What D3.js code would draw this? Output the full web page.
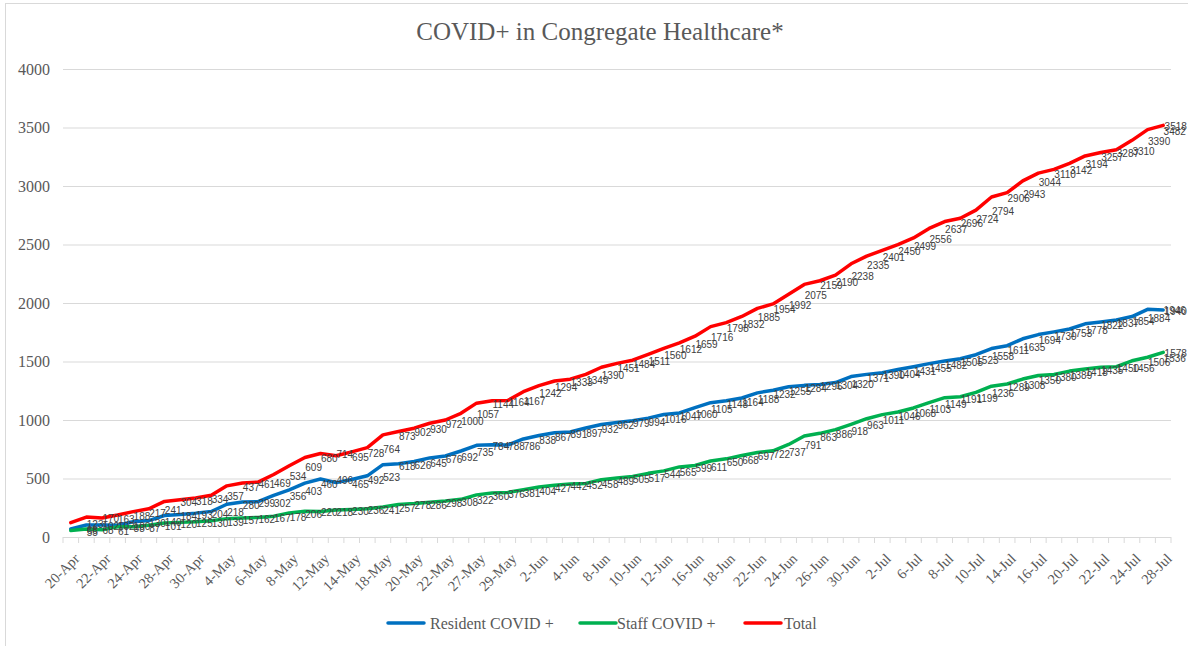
<!DOCTYPE html>
<html>
<head>
<meta charset="utf-8">
<script src="https://cdn.jsdelivr.net/npm/d3@7/dist/d3.min.js"></script>
<style>
body { margin: 0; background: #fff; }
svg { display: block; }
</style>
</head>
<body>
<div id="chart"></div>
<script>
const dates = ['20-Apr', '21-Apr', '22-Apr', '23-Apr', '24-Apr', '27-Apr', '28-Apr', '29-Apr', '30-Apr', '1-May',
    '4-May', '5-May', '6-May', '7-May', '8-May', '11-May', '12-May', '13-May', '14-May', '15-May',
    '18-May', '19-May', '20-May', '21-May', '22-May', '26-May', '27-May', '28-May', '29-May', '1-Jun',
    '2-Jun', '3-Jun', '4-Jun', '5-Jun', '8-Jun', '9-Jun', '10-Jun', '11-Jun', '12-Jun', '15-Jun',
    '16-Jun', '17-Jun', '18-Jun', '19-Jun', '22-Jun', '23-Jun', '24-Jun', '25-Jun', '26-Jun', '29-Jun',
    '30-Jun', '1-Jul', '2-Jul', '3-Jul', '6-Jul', '7-Jul', '8-Jul', '9-Jul', '10-Jul', '13-Jul',
    '14-Jul', '15-Jul', '16-Jul', '17-Jul', '20-Jul', '21-Jul', '22-Jul', '23-Jul', '24-Jul', '27-Jul',
    '28-Jul']

const resident = [68, 102, 102, 100, 130, 140, 184, 193, 204, 218,
    280, 299, 302, 356, 403, 460, 496, 465, 492, 523,
    618, 626, 645, 676, 692, 735, 784, 788, 786, 838,
    867, 891, 897, 932, 962, 979, 994, 1016, 1047, 1060,
    1105, 1148, 1164, 1188, 1232, 1255, 1284, 1296, 1304, 1320,
    1371, 1390, 1404, 1431, 1455, 1482, 1505, 1523, 1558, 1611,
    1635, 1694, 1730, 1753, 1778, 1822, 1837, 1854, 1884, 1946,
    1940]

const staff = [55, 68, 61, 88, 87, 101, 120, 125, 130, 139,
    157, 162, 167, 178, 206, 220, 218, 230, 236, 241,
    257, 278, 286, 298, 308, 322, 360, 376, 381, 404,
    427, 442, 452, 458, 489, 505, 517, 544, 565, 599,
    611, 650, 668, 697, 722, 737, 791, 863, 886, 918,
    963, 1011, 1046, 1068, 1103, 1149, 1191, 1199, 1236, 1289,
    1308, 1350, 1380, 1389, 1418, 1435, 1450, 1456, 1506, 1536,
    1578]

const total = [123, 170, 163, 188, 217, 241, 304, 318, 334, 357,
    437, 461, 469, 534, 609, 680, 714, 695, 728, 764,
    873, 902, 930, 972, 1000, 1057, 1144, 1164, 1167, 1242,
    1294, 1333, 1349, 1390, 1451, 1484, 1511, 1560, 1612, 1659,
    1716, 1798, 1832, 1885, 1954, 1992, 2075, 2159, 2190, 2238,
    2335, 2401, 2450, 2499, 2556, 2637, 2696, 2724, 2794, 2906,
    2943, 3044, 3110, 3142, 3194, 3257, 3287, 3310, 3390, 3482,
    3518]

const yTicks = [0, 500, 1000, 1500, 2000, 2500, 3000, 3500, 4000]
const seriesNames = ['Resident COVID +', 'Staff COVID +', 'Total']
const seriesColors = ['#0070C0', '#00B050', '#FF0000']
const title = 'COVID+ in Congregate Healthcare*'

const W = 1188
const H = 646
const plot = { left: 63, right: 1171, top: 69, bottom: 537 }

const serif = '"Liberation Serif", "Times New Roman", serif'
const sans = '"Liberation Sans", Arial, sans-serif'
const textColor = '#595959'
const gridColor = '#d9d9d9'

const series = [resident, staff, total].map((vals, i) => ({
    name: seriesNames[i],
    color: seriesColors[i],
    values: vals.map((v, j) => ({ date: dates[j], value: v }))
}))

const xScale = d3.scaleBand().domain(dates).range([plot.left, plot.right])
const xMid = d => xScale(d) + xScale.bandwidth() / 2
const yScale = d3.scaleLinear().domain([0, 4000]).range([plot.bottom, plot.top])

const svg = d3.select('#chart').append('svg')
    .attr('width', W)
    .attr('height', H)

// outer chart border
svg.append('rect')
    .attr('x', 5.5)
    .attr('y', 3.5)
    .attr('width', W)
    .attr('height', H)
    .attr('fill', 'none')
    .attr('stroke', gridColor)

svg.append('text')
    .attr('x', 600)
    .attr('y', 40)
    .attr('text-anchor', 'middle')
    .attr('font-family', serif)
    .attr('font-size', 25)
    .attr('fill', textColor)
    .text(title)

// gridlines + y labels
const yAxis = d3.axisLeft(yScale)
    .tickValues(yTicks)
    .tickFormat(d3.format('d'))
    .tickSize(-(plot.right - plot.left))
    .tickPadding(13)

svg.append('g')
    .attr('transform', `translate(${plot.left},0)`)
    .call(yAxis)
    .call(g => g.select('.domain').remove())
    .call(g => g.selectAll('.tick line').attr('stroke', gridColor))
    .call(g => g.selectAll('.tick text')
        .attr('font-family', serif)
        .attr('font-size', 16)
        .attr('fill', textColor))

// x axis line and tick marks between categories
svg.append('line')
    .attr('x1', plot.left)
    .attr('x2', plot.right)
    .attr('y1', plot.bottom + 0.5)
    .attr('y2', plot.bottom + 0.5)
    .attr('stroke', gridColor)

svg.append('g')
    .selectAll('line')
    .data(dates.concat([null]))
    .enter().append('line')
    .attr('x1', d => d === null ? plot.right : xScale(d))
    .attr('x2', d => d === null ? plot.right : xScale(d))
    .attr('y1', plot.bottom)
    .attr('y2', plot.bottom + 6)
    .attr('stroke', gridColor)

svg.append('g')
    .selectAll('text')
    .data(dates.filter((d, i) => i % 2 === 0))
    .enter().append('text')
    .attr('transform', d => `translate(${xMid(d) + 6},${plot.bottom + 19}) rotate(-45)`)
    .attr('text-anchor', 'end')
    .attr('dy', '0.35em')
    .attr('font-family', serif)
    .attr('font-size', 14.5)
    .attr('fill', textColor)
    .text(d => d)

const line = d3.line()
    .x(d => xMid(d.date))
    .y(d => yScale(d.value))

svg.selectAll('.series')
    .data(series)
    .enter().append('path')
    .attr('class', 'series')
    .attr('d', d => line(d.values))
    .attr('fill', 'none')
    .attr('stroke', d => d.color)
    .attr('stroke-width', 3.5)
    .attr('stroke-linejoin', 'round')
    .attr('stroke-linecap', 'round')

// data labels to the right of each point, kept inside the chart
const labels = svg.append('g')
    .attr('font-family', sans)
    .attr('font-size', 10)
    .attr('fill', '#404040')

series.forEach(s => {
    labels.selectAll(null)
        .data(s.values)
        .enter().append('text')
        .attr('x', d => Math.min(xMid(d.date) + 16, W - 1 - String(d.value).length * 5.6))
        .attr('y', d => yScale(d.value) + 5)
        .text(d => d.value)
})

// legend
const legendItems = [
    { x: 388, tx: 430 },
    { x: 580, tx: 617 },
    { x: 745, tx: 784 }
]

const legend = svg.selectAll('.legend')
    .data(series)
    .enter().append('g')
    .attr('class', 'legend')
    .attr('transform', (d, i) => `translate(${legendItems[i].x},623)`)

legend.append('line')
    .attr('x1', 0)
    .attr('x2', 36)
    .attr('stroke', d => d.color)
    .attr('stroke-width', 3.5)
    .attr('stroke-linecap', 'round')

legend.append('text')
    .attr('x', (d, i) => legendItems[i].tx - legendItems[i].x)
    .attr('y', 6)
    .attr('font-family', serif)
    .attr('font-size', 16)
    .attr('fill', textColor)
    .text(d => d.name)
</script>
</body>
</html>
